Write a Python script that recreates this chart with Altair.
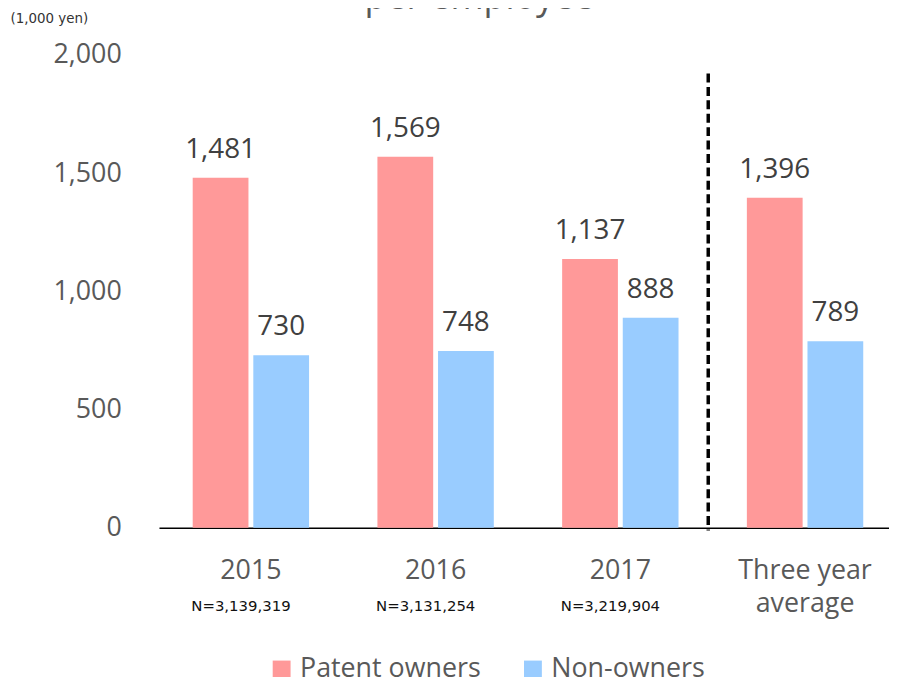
import altair as alt
import pandas as pd

categories = ["2015", "2016", "2017", "Three year average"]
groups = ["Patent owners", "Non-owners"]
patent_owners = [1481, 1569, 1137, 1396]
non_owners = [730, 748, 888, 789]
n_labels = ["N=3,139,319", "N=3,131,254", "N=3,219,904", ""]
colors = ["#FF9999", "#99CCFF"]

rows = []
for c, p, n in zip(categories, patent_owners, non_owners):
    rows.append({"category": c, "group": groups[0], "value": p, "label": f"{p:,}"})
    rows.append({"category": c, "group": groups[1], "value": n, "label": f"{n:,}"})
df = pd.DataFrame(rows)
ndf = pd.DataFrame({"category": categories, "n": n_labels})
tdf = pd.DataFrame({"t": ["per employee"]})

FONT = "Open Sans"

x_scale = alt.Scale(paddingInner=0.37, paddingOuter=0.161, align=0.567)

x_enc = alt.X(
    "category:N",
    sort=categories,
    scale=x_scale,
    axis=alt.Axis(
        title=None,
        ticks=False,
        tickSize=0,
        domainColor="black",
        domainWidth=1.5,
        labelFont=FONT,
        labelFontSize=27,
        labelColor="#595959",
        labelPadding=30,
        labelAngle=0,
        labelBaseline="top",
        labelLineHeight=33,
        labelLimit=300,
        labelExpr="datum.value == 'Three year average' ? ['Three year', 'average'] : datum.value",
    ),
)

y_enc = alt.Y(
    "value:Q",
    scale=alt.Scale(domain=[0, 2000]),
    axis=alt.Axis(
        values=[0, 500, 1000, 1500, 2000],
        format=",d",
        grid=False,
        domain=False,
        ticks=False,
        tickSize=0,
        labelFont=FONT,
        labelFontSize=27,
        labelColor="#595959",
        labelPadding=38,
        title="(1,000 yen)",
        titleAngle=0,
        titleX=-150,
        titleY=-37,
        titleAlign="left",
        titleBaseline="middle",
        titleFont="DejaVu Sans",
        titleFontSize=13.5,
        titleFontWeight="normal",
        titleColor="#333333",
    ),
)

xoff = alt.XOffset("group:N", sort=groups, scale=alt.Scale(paddingInner=0.08))

base = alt.Chart(df)

bars = base.mark_bar().encode(
    x=x_enc,
    xOffset=xoff,
    y=y_enc,
    color=alt.Color(
        "group:N",
        sort=groups,
        scale=alt.Scale(domain=groups, range=colors),
        legend=alt.Legend(
            title=None,
            orient="none",
            legendX=110,
            legendY=605,
            direction="horizontal",
            symbolType="square",
            symbolSize=324,
            symbolStrokeWidth=0,
            labelFont=FONT,
            labelFontSize=27,
            labelColor="#595959",
            labelOffset=5,
            labelLimit=400,
            columnPadding=38,
        ),
    ),
)

values = base.mark_text(
    dy=-20, baseline="alphabetic", font=FONT, fontSize=28, color="#404040"
).encode(
    x=alt.X("category:N", sort=categories, scale=x_scale),
    xOffset=alt.XOffset("group:N", sort=groups),
    y=alt.Y("value:Q"),
    text="label:N",
)

nlab = alt.Chart(ndf).mark_text(
    baseline="alphabetic", font="DejaVu Sans", fontSize=15, color="#111111", dx=-10
).encode(
    x=alt.X("category:N", sort=categories, scale=x_scale),
    y=alt.value(560),
    text="n:N",
)

divider = alt.Chart(tdf).mark_rule(
    color="black", strokeWidth=3.5, strokeDash=[9, 4.5]
).encode(x=alt.value(553), y=alt.value(18.7), y2=alt.value(478.7))

title = alt.Chart(tdf).mark_text(
    baseline="alphabetic", font=FONT, fontSize=36, color="#595959"
).encode(x=alt.value(322.5), y=alt.value(-46), text="t:N")

chart = (
    alt.layer(bars, values, nlab, divider, title)
    .properties(
        width=735,
        height=476,
        padding={"left": 152, "top": 45, "right": 0, "bottom": 148},
        autosize=alt.AutoSizeParams(type="none"),
        background="white",
    )
    .configure_view(strokeWidth=0, stroke="transparent")
)

chart.save("out.html", embed_options={"renderer": "svg", "actions": False})
